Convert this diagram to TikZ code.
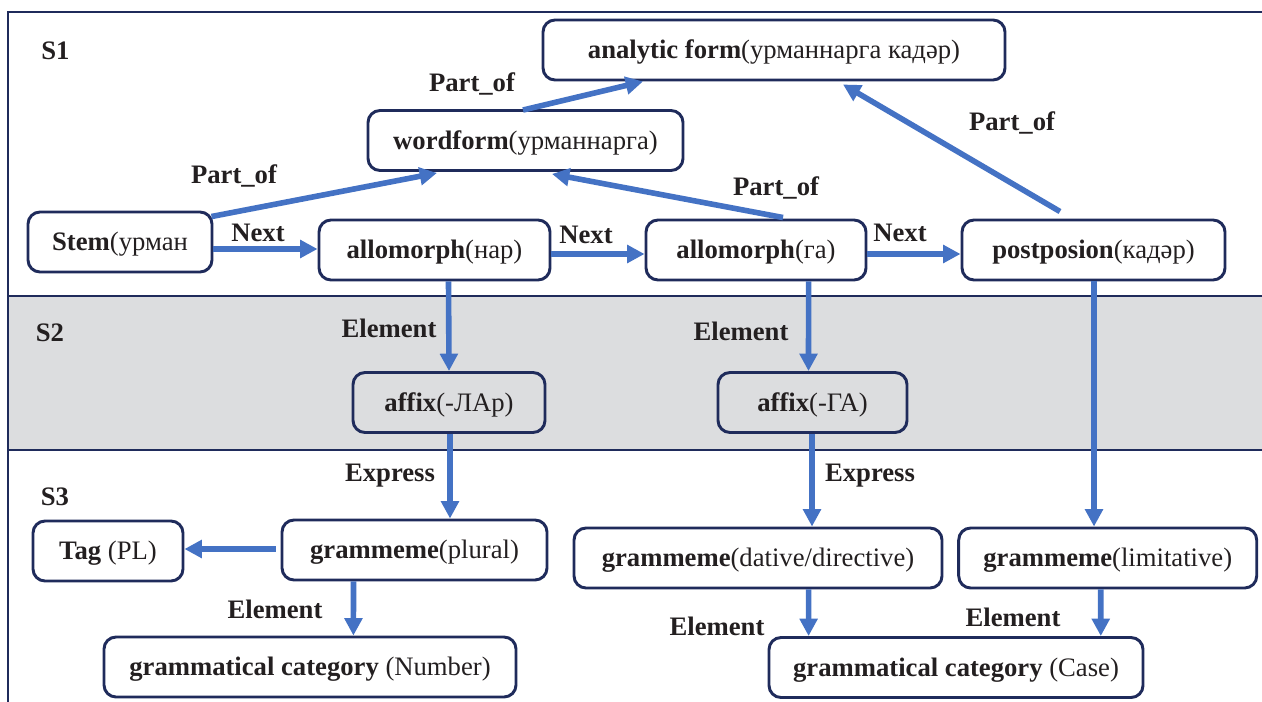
\documentclass[tikz,border=0pt]{standalone}
\usepackage{fontspec}
\setmainfont{Liberation Serif}
\usetikzlibrary{arrows.meta}
\definecolor{arrowblue}{HTML}{4472C4}
\definecolor{boxnavy}{HTML}{1F2B5B}
\definecolor{bandgray}{HTML}{DCDDDF}
\definecolor{inkblack}{HTML}{231F20}
\begin{document}
\begin{tikzpicture}[x=0.75pt,y=-0.75pt,
  every node/.append style={text=inkblack},
  txt/.style={font=\fontsize{20}{24}\selectfont},
  box/.style={txt, draw=boxnavy, line width=2.2pt, rounded corners=9pt,
    minimum height=45pt, inner sep=0pt, text height=15pt, text depth=2pt},
  lbl/.style={font=\fontsize{20}{24}\selectfont\bfseries, inner sep=0pt,
    text height=15pt, text depth=2pt},
  frameline/.style={draw=boxnavy, line width=1.5pt},
  arr/.style={draw=arrowblue, line width=4.2pt, -{Triangle[length=13pt,width=13pt]}}]

\useasboundingbox (0,0) rectangle (1262,702);

% layer bands
\fill[bandgray] (7.5,296) rectangle (1262,450);
\draw[frameline] (1262,12) -- (7.5,12) -- (7.5,702);
\draw[frameline] (7.5,296) -- (1262,296);
\draw[frameline] (7.5,450) -- (1262,450);

\node[lbl] (s1) at (55.5,51) {S1};
\node[lbl] (s2) at (50,333) {S2};
\node[lbl] (s3) at (55,497) {S3};

% S1 nodes
\node[box, minimum width=346.5pt] (analytic) at (774,50) {\textbf{analytic form}(урманнарга кадәр)};
\node[box, minimum width=236.25pt] (wordform) at (525.5,140.5) {\textbf{wordform}(урманнарга)};
\node[box, minimum width=138pt] (stem) at (120,242) {\textbf{Stem}(урман};
\node[box, minimum width=173.25pt] (allo1) at (434.5,250) {\textbf{allomorph}(нар)};
\node[box, minimum width=165pt] (allo2) at (756,250) {\textbf{allomorph}(га)};
\node[box, minimum width=197.25pt] (post) at (1093.5,250) {\textbf{postposion}(кадәр)};

% S2 nodes
\node[box, minimum width=144pt] (affix1) at (449,402.5) {\textbf{affix}(-ЛАр)};
\node[box, minimum width=141.75pt] (affix2) at (812.5,402.5) {\textbf{affix}(-ГА)};

% S3 nodes
\node[box, minimum width=112.5pt] (tag) at (108,551) {\textbf{Tag} (PL)};
\node[box, minimum width=198.75pt] (gram1) at (414.5,550) {\textbf{grammeme}(plural)};
\node[box, minimum width=276pt] (gram2) at (758,558) {\textbf{grammeme}(dative/directive)};
\node[box, minimum width=223.5pt] (gram3) at (1107.7,558) {\textbf{grammeme}(limitative)};
\node[box, minimum width=309pt] (cat1) at (310,667) {\textbf{grammatical category} (Number)};
\node[box, minimum width=280.5pt] (cat2) at (956,667.5) {\textbf{grammatical category} (Case)};

% Part_of relations
\draw[arr] ([shift={(-2,6)}]stem.north east) -- ([shift={(-88.5,1)}]wordform.south);
\draw[arr] ([shift={(-2.5,1)}]wordform.north) -- ([shift={(-131,0)}]analytic.south);
\draw[arr] ([shift={(27,-1)}]allo2.north) -- ([shift={(26.5,2)}]wordform.south);
\draw[arr] ([shift={(-33.5,-7)}]post.north) -- ([shift={(69,3)}]analytic.south);

% Next relations
\draw[arr] ([shift={(0,7)}]stem.east) -- ([shift={(0,-1)}]allo1.west);
\draw[arr] ([shift={(0,4)}]allo1.east) -- ([shift={(0,4)}]allo2.west);
\draw[arr] ([shift={(0,4)}]allo2.east) -- ([shift={(0,4)}]post.west);

% Element / Express relations
\draw[arr] ([shift={(14,0)}]allo1.south) -- ([shift={(0,0)}]affix1.north);
\draw[arr] ([shift={(52.6,0)}]allo2.south) -- ([shift={(-4,0)}]affix2.north);
\draw[arr] ([shift={(1,0)}]affix1.south) -- ([shift={(35.5,0)}]gram1.north);
\draw[arr] ([shift={(-0.5,0)}]affix2.south) -- ([shift={(54,0)}]gram2.north);
\draw[arr] ([shift={(0.5,0)}]post.south) -- ([shift={(-13.7,0)}]gram3.north);
\draw[arr] ([shift={(-5,-1)}]gram1.west) -- ([shift={(0,-2)}]tag.east);
\draw[arr] ([shift={(-61,0)}]gram1.south) -- ([shift={(43.4,0)}]cat1.north);
\draw[arr] ([shift={(50.6,0)}]gram2.south) -- ([shift={(-147.4,0)}]cat2.north);
\draw[arr] ([shift={(-7,0)}]gram3.south) -- ([shift={(144.8,0)}]cat2.north);

% relation labels
\node[lbl] (po1) at (234,175) {Part\_of};
\node[lbl] (po2) at (472,83) {Part\_of};
\node[lbl] (po3) at (776,187) {Part\_of};
\node[lbl] (po4) at (1012,122) {Part\_of};
\node[lbl] (nx1) at (258,233) {Next};
\node[lbl] (nx2) at (586,235) {Next};
\node[lbl] (nx3) at (900,233) {Next};
\node[lbl] (el1) at (389,329) {Element};
\node[lbl] (el2) at (741,332) {Element};
\node[lbl] (el3) at (275,610) {Element};
\node[lbl] (el4) at (717,627) {Element};
\node[lbl] (el5) at (1013,618) {Element};
\node[lbl] (ex1) at (390,473) {Express};
\node[lbl] (ex2) at (870,473) {Express};
\end{tikzpicture}
\end{document}
